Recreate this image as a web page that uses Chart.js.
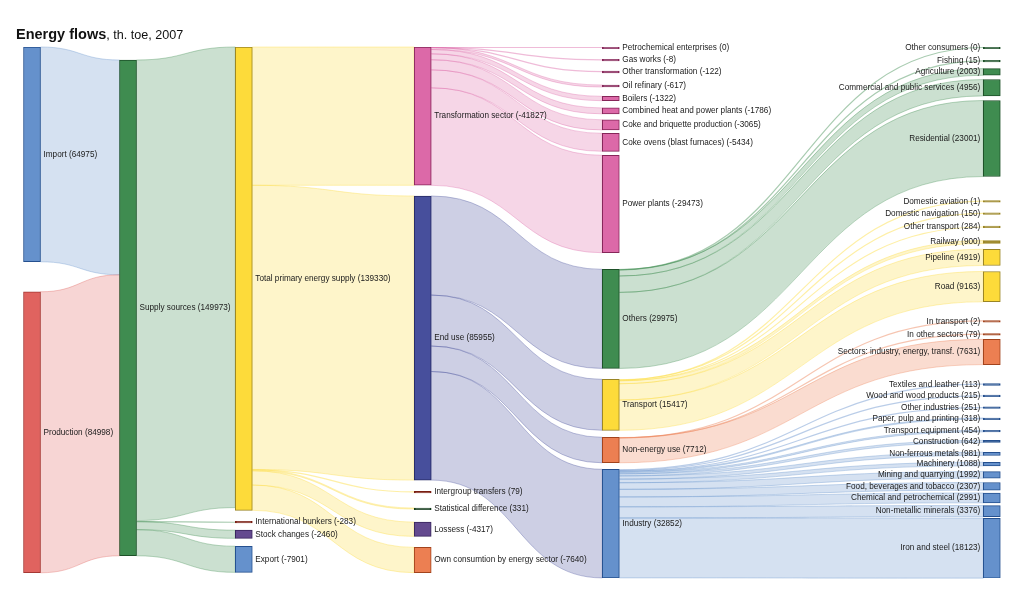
<!DOCTYPE html>
<html>
<head>
<meta charset="utf-8">
<script src="https://cdn.jsdelivr.net/npm/chart.js@4.4.1/dist/chart.umd.min.js"></script>
<style>
    html, body { margin: 0; padding: 0; background: #fff; }
    #wrap { position: relative; width: 1024px; height: 607px; }
    #title {
        position: absolute; left: 16px; top: 26px;
        font-family: "Liberation Sans", Arial, sans-serif; font-size: 12.6px; color: #111;
        white-space: nowrap;
    }
    #title b { font-size: 14.5px; }
</style>
</head>
<body>
<div id="wrap">
    <div id="title"><b>Energy flows</b>, th. toe, 2007</div>
    <canvas id="sankeyChart"></canvas>
</div>
<script>
// nodes: label text and the value printed next to it (th. toe)
const nodeNames = [
    'Import', 'Production',
    'Supply sources',
    'Total primary energy supply', 'International bunkers', 'Stock changes', 'Export',
    'Transformation sector', 'End use', 'Intergroup transfers', 'Statistical difference', 'Lossess',
    'Own consumtion by energy sector',
    'Petrochemical enterprises', 'Gas works', 'Other transformation', 'Oil refinary', 'Boilers',
    'Combined heat and power plants', 'Coke and briquette production', 'Coke ovens (blast furnaces)',
    'Power plants', 'Others', 'Transport', 'Non-energy use', 'Industry',
    'Other consumers', 'Fishing', 'Agriculture', 'Commercial and public services', 'Residential',
    'Domestic aviation', 'Domestic navigation', 'Other transport', 'Railway', 'Pipeline', 'Road',
    'In transport', 'In other sectors', 'Sectors: industry, energy, transf.',
    'Textiles and leather', 'Wood and wood products', 'Other industries', 'Paper, pulp and printing',
    'Transport equipment', 'Construction', 'Non-ferrous metals', 'Machinery', 'Mining and quarrying',
    'Food, beverages and tobacco', 'Chemical and petrochemical', 'Non-metallic minerals', 'Iron and steel'
];
const nodeValues = [
    64975, 84998,
    149973,
    139330, -283, -2460, -7901,
    -41827, 85955, 79, 331, -4317, -7640,
    0, -8, -122, -617, -1322, -1786, -3065, -5434, -29473,
    29975, 15417, 7712, 32852,
    0, 15, 2003, 4956, 23001,
    1, 150, 284, 900, 4919, 9163,
    2, 79, 7631,
    113, 215, 251, 318, 454, 642, 981, 1088, 1992, 2307, 2991, 3376, 18123
];
const nodeColumns = [
    0, 0, 1, 2, 2, 2, 2, 3, 3, 3, 3, 3, 3,
    4, 4, 4, 4, 4, 4, 4, 4, 4, 4, 4, 4, 4,
    5, 5, 5, 5, 5, 5, 5, 5, 5, 5, 5, 5, 5, 5,
    5, 5, 5, 5, 5, 5, 5, 5, 5, 5, 5, 5, 5
];

// flows: source node, target node, amount (th. toe)
const linkSources = [0, 1, 2, 2, 2, 2, 3, 3, 3, 3, 3, 3,
    7, 7, 7, 7, 7, 7, 7, 7, 7,
    8, 8, 8, 8,
    22, 22, 22, 22, 22,
    23, 23, 23, 23, 23, 23,
    24, 24, 24,
    25, 25, 25, 25, 25, 25, 25, 25, 25, 25, 25, 25, 25];
const linkTargets = [2, 2, 3, 4, 5, 6, 7, 8, 9, 10, 11, 12,
    13, 14, 15, 16, 17, 18, 19, 20, 21,
    22, 23, 24, 25,
    26, 27, 28, 29, 30,
    31, 32, 33, 34, 35, 36,
    37, 38, 39,
    40, 41, 42, 43, 44, 45, 46, 47, 48, 49, 50, 51, 52];
const linkValues = [64975, 84998, 139330, 283, 2460, 7901,
    41827, 85955, 79, 331, 4317, 7640,
    0, 8, 122, 617, 1322, 1786, 3065, 5434, 29473,
    29975, 15417, 7712, 32852,
    0, 15, 2003, 4956, 23001,
    1, 150, 284, 900, 4919, 9163,
    2, 79, 7631,
    113, 215, 251, 318, 454, 642, 981, 1088, 1992, 2307, 2991, 3376, 18123];

// ---- layout and style (not data) ----
const UNIT = 302.5;          // th. toe per pixel
const TOP = 47, BOTTOM = 578;
const NODE_W = 17;
const MIN_NODE_PX = 1.6;
const columnX = [32, 128, 243.8, 422.7, 610.8, 991.8];
// free space above each node, px
const nodeGaps = [
    0, 30, 13, 0, 11, 7.3, 7.9, 0, 10.7, 11.3, 15, 12.5, 11,
    0, 10.8, 10.2, 12.2, 9.3, 7.2, 6, 3.4, 4, 16.6, 10.9, 7, 6.5,
    0, 11.8, 6.6, 4.3, 4.6, 24, 10.8, 11.5, 12.9, 5.7, 6, 18.7, 11.5, 4.2,
    19.1, 9.8, 10.2, 9.5, 10.8, 8.4, 9.7, 6.8, 5.7, 4.4, 2.8, 2.7, 1.5
];
const palette = {
    blue:   ['#6591cc', '#25508f'],
    red:    ['#e0635f', '#a53834'],
    green:  ['#3f8c50', '#1d5128'],
    yellow: ['#fddb3a', '#9a8524'],
    purple: ['#644a8f', '#38255c'],
    brick:  ['#8c2c1c', '#7a1e12'],
    pink:   ['#dc69a8', '#862659'],
    navy:   ['#474f9c', '#262a64'],
    orange: ['#ec7f52', '#a2431c'],
    forest: ['#1d5128', '#123a1a']
};
const nodePalette = [
    'blue', 'red', 'green', 'yellow', 'brick', 'purple', 'blue',
    'pink', 'navy', 'brick', 'forest', 'purple', 'orange',
    'pink', 'pink', 'pink', 'pink', 'pink', 'pink', 'pink', 'pink', 'pink',
    'green', 'yellow', 'orange', 'blue',
    'green', 'green', 'green', 'green', 'green',
    'yellow', 'yellow', 'yellow', 'yellow', 'yellow', 'yellow',
    'orange', 'orange', 'orange',
    'blue', 'blue', 'blue', 'blue', 'blue', 'blue', 'blue', 'blue', 'blue', 'blue', 'blue', 'blue', 'blue'
];

function hexToRgba(hex, a) {
    const n = parseInt(hex.slice(1), 16);
    return `rgba(${(n >> 16) & 255}, ${(n >> 8) & 255}, ${n & 255}, ${a})`;
}

// node size = larger of in-flow and out-flow
const inSum = nodeNames.map(() => 0);
const outSum = nodeNames.map(() => 0);
linkValues.forEach((v, i) => {
    outSum[linkSources[i]] += v;
    inSum[linkTargets[i]] += v;
});

// stack nodes down each column (in value units)
const nodeTop = [], nodeSize = [];
const cursor = columnX.map(() => 0);
nodeNames.forEach((_, i) => {
    const c = nodeColumns[i];
    cursor[c] += nodeGaps[i] * UNIT;
    nodeTop[i] = cursor[c];
    nodeSize[i] = Math.max(inSum[i], outSum[i], MIN_NODE_PX * UNIT);
    cursor[c] += nodeSize[i];
});

const nodeBars = nodeNames.map((_, i) => ({ x: columnX[nodeColumns[i]], y: [nodeTop[i], nodeTop[i] + nodeSize[i]] }));
const nodeFill = nodeNames.map((_, i) => {
    const p = palette[nodePalette[i]];
    return nodeSize[i] / UNIT < 3 ? p[1] : p[0];
});
const nodeEdge = nodeNames.map((_, i) => palette[nodePalette[i]][1]);

const flowPlugin = {
    id: 'flows',
    beforeDatasetsDraw(chart) {
        const { ctx, scales: { x, y } } = chart;
        const srcOff = nodeNames.map(() => 0);
        const tgtOff = nodeNames.map(() => 0);
        ctx.save();
        linkValues.forEach((v, i) => {
            const s = linkSources[i], t = linkTargets[i];
            const x0 = x.getPixelForValue(columnX[nodeColumns[s]]) + NODE_W / 2;
            const x1 = x.getPixelForValue(columnX[nodeColumns[t]]) - NODE_W / 2;
            const y0t = y.getPixelForValue(nodeTop[s] + srcOff[s]);
            const y0b = y.getPixelForValue(nodeTop[s] + srcOff[s] + v);
            const y1t = y.getPixelForValue(nodeTop[t] + tgtOff[t]);
            const y1b = y.getPixelForValue(nodeTop[t] + tgtOff[t] + v);
            srcOff[s] += v;
            tgtOff[t] += v;
            const xm = (x0 + x1) / 2;
            const col = palette[nodePalette[s]][0];
            if (y0b - y0t < 1) {
                const d0 = Math.max(y0t, y0b - 0.5) , d1 = Math.max(y1t, y1b - 0.5);
                ctx.beginPath();
                ctx.moveTo(x0, d0 + 0.5);
                ctx.bezierCurveTo(xm, d0 + 0.5, xm, d1 + 0.5, x1, d1 + 0.5);
                ctx.strokeStyle = hexToRgba(col, 0.45);
                ctx.lineWidth = 1.2;
                ctx.stroke();
                return;
            }
            ctx.beginPath();
            ctx.moveTo(x0, y0t);
            ctx.bezierCurveTo(xm, y0t, xm, y1t, x1, y1t);
            ctx.lineTo(x1, y1b);
            ctx.bezierCurveTo(xm, y1b, xm, y0b, x0, y0b);
            ctx.closePath();
            ctx.fillStyle = hexToRgba(col, 0.27);
            ctx.fill();
            ctx.strokeStyle = hexToRgba(col, 0.5);
            ctx.lineWidth = 0.7;
            ctx.stroke();
        });
        ctx.restore();
    },
    afterDatasetsDraw(chart) {
        const { ctx, scales: { x, y } } = chart;
        ctx.save();
        ctx.font = '8.2px "Liberation Sans", Arial, sans-serif';
        ctx.fillStyle = '#1a1a1a';
        ctx.textBaseline = 'middle';
        nodeNames.forEach((name, i) => {
            const c = nodeColumns[i];
            const cx = x.getPixelForValue(columnX[c]);
            const cy = y.getPixelForValue(nodeTop[i] + nodeSize[i] / 2);
            const text = `${name} (${nodeValues[i]})`;
            if (c === columnX.length - 1) {
                ctx.textAlign = 'right';
                ctx.fillText(text, cx - NODE_W / 2 - 3, cy);
            } else {
                ctx.textAlign = 'left';
                ctx.fillText(text, cx + NODE_W / 2 + 3, cy);
            }
        });
        ctx.restore();
    }
};

new Chart(document.getElementById('sankeyChart'), {
    type: 'bar',
    data: {
        datasets: [{
            data: nodeBars,
            backgroundColor: nodeFill,
            borderColor: nodeEdge,
            borderWidth: 1,
            borderSkipped: false,
            barThickness: NODE_W
        }]
    },
    options: {
        responsive: true,
        maintainAspectRatio: false,
        animation: false,
        layout: { padding: { top: TOP, bottom: 607 - BOTTOM, left: 0, right: 0 } },
        plugins: { legend: { display: false }, tooltip: { enabled: false } },
        scales: {
            x: { type: 'linear', min: 0, max: 1024, offset: false, display: false },
            y: { type: 'linear', min: 0, max: (BOTTOM - TOP) * UNIT, reverse: true, display: false }
        }
    },
    plugins: [flowPlugin]
});
</script>
</body>
</html>
